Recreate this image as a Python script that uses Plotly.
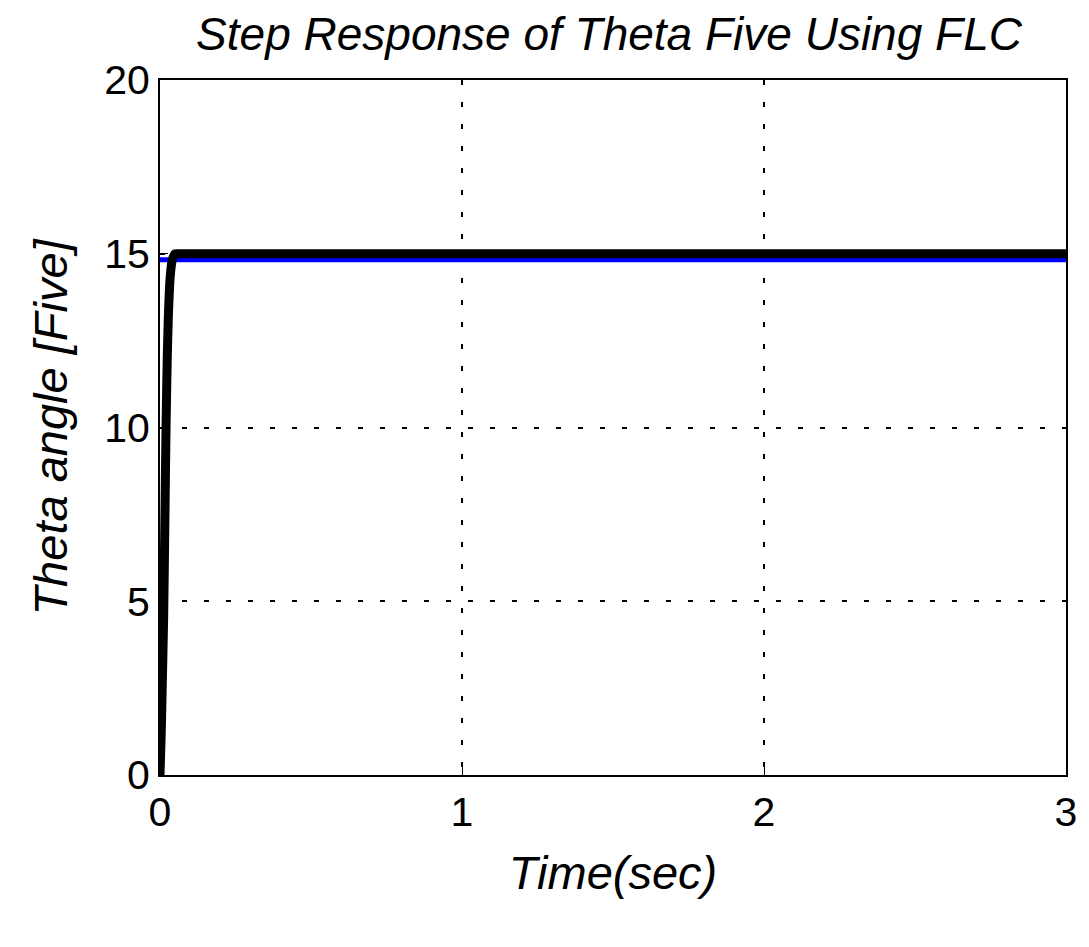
import plotly.graph_objects as go

# reference input (blue) and FLC response (black)
ref_time = [0.0, 3.0]
ref_theta = [14.83, 14.83]

resp_time = [0.0, 0.004, 0.008, 0.012, 0.016, 0.02, 0.024, 0.028, 0.032,
             0.036, 0.04, 0.045, 0.05, 0.06, 3.0]
resp_theta = [0.0, 1.2, 2.8, 4.5, 7.2, 10.0, 12.0, 13.3, 14.1,
              14.55, 14.8, 14.93, 15.0, 15.0, 15.0]

x_ticks = [0, 1, 2, 3]
y_ticks = [0, 5, 10, 15, 20]

FONT = "Liberation Sans, Arial, sans-serif"

fig = go.Figure()
fig.add_trace(go.Scatter(x=ref_time, y=ref_theta, mode="lines",
                         line=dict(color="#0000ff", width=5), showlegend=False))
fig.add_trace(go.Scatter(x=resp_time, y=resp_theta, mode="lines",
                         line=dict(color="black", width=9, shape="spline", smoothing=0.6),
                         showlegend=False))

grid = dict(showgrid=True, gridcolor="black", gridwidth=2, griddash="5px,17px",
            zeroline=False, showline=True, linecolor="black", linewidth=2,
            mirror=True, ticks="inside", ticklen=8, tickcolor="black",
            tickfont=dict(family=FONT, size=41, color="black"))

fig.update_xaxes(range=[0, 3], tickvals=x_ticks,
                 title=dict(text="<i>Time(sec)</i>", standoff=22,
                            font=dict(family=FONT, size=47, color="black")),
                 **grid)
fig.update_yaxes(range=[0, 20], tickvals=y_ticks,
                 title=dict(text="<i>Theta angle [Five]</i>", standoff=22,
                            font=dict(family=FONT, size=47, color="black")),
                 **grid)

# page body adds an 8px offset, so the figure is sized a little smaller
fig.update_layout(
    width=1081, height=939,
    margin=dict(l=152, r=23, t=72, b=172),
    paper_bgcolor="white", plot_bgcolor="white",
    title=dict(text="<i>Step Response of Theta Five Using FLC</i>",
               x=0.556, xanchor="center", y=0.972, yanchor="middle",
               font=dict(family=FONT, size=46, color="black")),
)

fig.write_html("out.html")
